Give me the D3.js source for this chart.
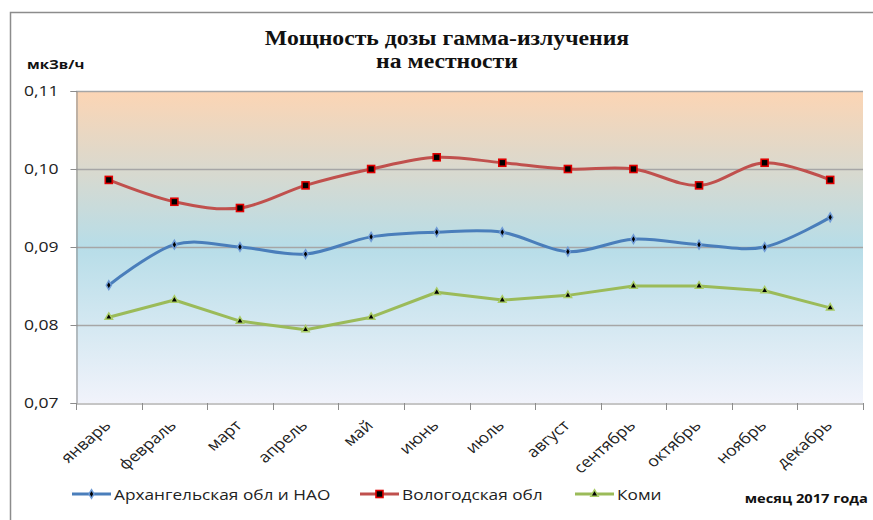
<!DOCTYPE html>
<html>
<head>
<meta charset="utf-8">
<script src="https://cdn.jsdelivr.net/npm/d3@7"></script>
<style>
  body { margin: 0; background: #fff; }
  svg { display: block; }
</style>
</head>
<body>
<div id="chart"></div>
<script>
'use strict';

var months = ['январь', 'февраль', 'март', 'апрель', 'май', 'июнь',
              'июль', 'август', 'сентябрь', 'октябрь', 'ноябрь', 'декабрь'];
var arkhangelsk = [0.0851, 0.0903, 0.0900, 0.0891, 0.0913, 0.0919,
                   0.0919, 0.0894, 0.0910, 0.0903, 0.0900, 0.0938];
var vologda = [0.0986, 0.0958, 0.0950, 0.0979, 0.1000, 0.1015,
               0.1008, 0.1000, 0.1000, 0.0979, 0.1008, 0.0986];
var komi = [0.0810, 0.0832, 0.0805, 0.0794, 0.0810, 0.0842,
            0.0832, 0.0838, 0.0850, 0.0850, 0.0844, 0.0822];
var yTicks = [0.07, 0.08, 0.09, 0.10, 0.11];
var seriesNames = ['Архангельская обл и НАО', 'Вологодская обл', 'Коми'];

var width = 873, height = 520;
var plot = {left: 76, top: 91, right: 863, bottom: 403};
var sx = 1.17; // the original picture is stretched sideways

var svg = d3.select('#chart').append('svg')
    .attr('width', width).attr('height', height);

// widen a text around its anchor x
function stretch(sel, s) {
  sel.each(function() {
    var ax = +d3.select(this).attr('x') || 0;
    d3.select(this).attr('transform',
      'translate(' + ax + ',0) scale(' + s + ',1) translate(' + (-ax) + ',0)');
  });
}

// outer chart border
svg.append('rect')
    .attr('x', 10.5).attr('y', 12.5)
    .attr('width', 900).attr('height', 600)
    .attr('fill', '#fff').attr('stroke', '#8c8c8c').attr('stroke-width', 1.5);

var defs = svg.append('defs');
var grad = defs.append('linearGradient')
    .attr('id', 'bg').attr('x1', 0).attr('y1', 0).attr('x2', 0).attr('y2', 1);
grad.append('stop').attr('offset', '0%').attr('stop-color', '#fcd5b4');
grad.append('stop').attr('offset', '50%').attr('stop-color', '#b7dde8');
grad.append('stop').attr('offset', '100%').attr('stop-color', '#f1f3fb');

var x = d3.scaleBand().domain(months).range([plot.left, plot.right]);
var y = d3.scaleLinear().domain([0.07, 0.11]).range([plot.bottom, plot.top]);

svg.append('rect')
    .attr('x', plot.left).attr('y', plot.top)
    .attr('width', plot.right - plot.left).attr('height', plot.bottom - plot.top)
    .attr('fill', 'url(#bg)');

// grid
svg.append('g').selectAll('line').data(yTicks.slice(1)).join('line')
    .attr('x1', plot.left).attr('x2', plot.right)
    .attr('y1', function(d) { return Math.round(y(d)) + 0.5; })
    .attr('y2', function(d) { return Math.round(y(d)) + 0.5; })
    .attr('stroke', '#a6a6a6').attr('stroke-width', 1.5);

// y axis
var yAxis = svg.append('g')
    .attr('transform', 'translate(' + (plot.left + 0.5) + ',0)')
    .call(d3.axisLeft(y).tickValues(yTicks).tickSize(6)
        .tickFormat(function(d) { return d3.format('.2f')(d).replace('.', ','); }));
yAxis.select('.domain').attr('stroke', '#8c8c8c');
yAxis.selectAll('.tick line').attr('stroke', '#8c8c8c');
yAxis.selectAll('.tick text')
    .attr('x', -18)
    .attr('font-family', '"Open Sans", sans-serif').attr('font-size', 15).attr('fill', '#222')
    .call(stretch, sx);

// x axis
var xAxis = svg.append('g')
    .attr('transform', 'translate(0,' + (plot.bottom + 0.5) + ')')
    .call(d3.axisBottom(x).tickSize(0).tickSizeOuter(0));
xAxis.select('.domain').attr('stroke', '#8c8c8c');
xAxis.selectAll('.tick text')
    .attr('font-family', '"Open Sans", sans-serif').attr('font-size', 15).attr('fill', '#222')
    .attr('text-anchor', 'end')
    .attr('y', 0).attr('dy', 0)
    .attr('transform', 'translate(3,23) scale(' + sx + ',1) rotate(-45)');
var bounds = months.map(function(m) { return x(m); }).concat([plot.right]);
svg.append('g').selectAll('line').data(bounds).join('line')
    .attr('x1', function(d) { return Math.round(d) + 0.5; })
    .attr('x2', function(d) { return Math.round(d) + 0.5; })
    .attr('y1', plot.bottom).attr('y2', plot.bottom + 7)
    .attr('stroke', '#8c8c8c');

var cx = function(i) { return x(months[i]) + x.bandwidth() / 2; };

var series = [
  {name: seriesNames[0], values: arkhangelsk, color: '#4a7ebb', marker: 'diamond', smooth: true},
  {name: seriesNames[1], values: vologda, color: '#c0504d', marker: 'square', smooth: true},
  {name: seriesNames[2], values: komi, color: '#9bbb59', marker: 'triangle', smooth: false}
];

function drawMarker(g, type, color) {
  if (type === 'diamond') {
    g.append('path').attr('d', d3.symbol(d3.symbolDiamond, 22)())
      .attr('fill', '#000').attr('stroke', '#6f9bd6').attr('stroke-width', 1.5);
  } else if (type === 'square') {
    g.append('rect').attr('x', -3.5).attr('y', -3.5).attr('width', 7).attr('height', 7)
      .attr('fill', '#000').attr('stroke', '#e00000').attr('stroke-width', 1.6);
  } else {
    g.append('path').attr('d', d3.symbol(d3.symbolTriangle, 24)())
      .attr('fill', '#000').attr('stroke', '#a9cc66').attr('stroke-width', 1.5);
  }
}

series.forEach(function(s) {
  var line = d3.line()
    .x(function(d, i) { return cx(i); })
    .y(function(d) { return y(d); })
    .curve(s.smooth ? d3.curveCatmullRom.alpha(0) : d3.curveLinear);
  svg.append('path').datum(s.values)
    .attr('d', line)
    .attr('fill', 'none').attr('stroke', s.color).attr('stroke-width', 3)
    .attr('stroke-linejoin', 'round');
  svg.append('g').selectAll('g').data(s.values).join('g')
    .attr('transform', function(d, i) { return 'translate(' + cx(i) + ',' + y(d) + ')'; })
    .each(function() { drawMarker(d3.select(this), s.marker, s.color); });
});

// title
var title = svg.append('text')
  .attr('x', 447).attr('text-anchor', 'middle')
  .attr('font-family', '"Liberation Serif", "Times New Roman", serif')
  .attr('font-weight', 'bold').attr('font-size', 20).attr('fill', '#111');
title.append('tspan').attr('x', 447).attr('y', 45).text('Мощность дозы гамма-излучения');
title.append('tspan').attr('x', 447).attr('y', 68).text('на местности');
title.call(stretch, 1.185);

svg.append('text').attr('x', 27).attr('y', 69)
  .attr('font-family', '"Open Sans", sans-serif').attr('font-weight', 'bold')
  .attr('font-size', 13).attr('fill', '#111').text('мкЗв/ч')
  .call(stretch, 1.16);

svg.append('text').attr('x', 868).attr('y', 503).attr('text-anchor', 'end')
  .attr('font-family', '"Open Sans", sans-serif').attr('font-weight', 'bold')
  .attr('font-size', 13).attr('fill', '#111').text('месяц 2017 года')
  .call(stretch, 1.13);

// legend
var legendX = [72, 360, 575];
series.forEach(function(s, i) {
  var g = svg.append('g').attr('transform', 'translate(' + legendX[i] + ',494)');
  g.append('line').attr('x1', 0).attr('x2', 39).attr('y1', 0).attr('y2', 0)
    .attr('stroke', s.color).attr('stroke-width', 3);
  var m = g.append('g').attr('transform', 'translate(19.5,0)');
  drawMarker(m, s.marker, s.color);
  g.append('text').attr('x', 42).attr('y', 5.5)
    .attr('font-family', '"Open Sans", sans-serif').attr('font-size', 15).attr('fill', '#222')
    .text(s.name)
    .call(stretch, 1.15);
});
</script>
</body>
</html>
